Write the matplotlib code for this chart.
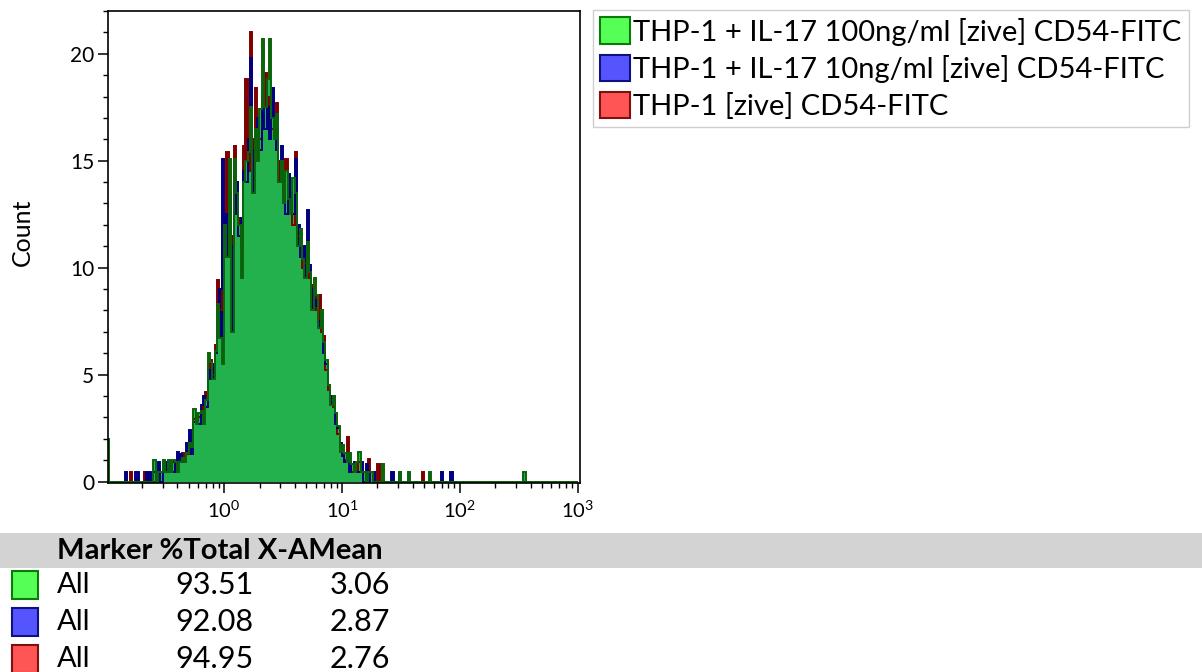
import numpy as np
import matplotlib
matplotlib.use("Agg")
import matplotlib.pyplot as plt
from matplotlib.patches import Patch, Rectangle
from matplotlib.ticker import FixedLocator, NullFormatter

plt.rcParams['font.family'] = ['Lato', 'DejaVu Sans']
plt.rcParams['mathtext.fontset'] = 'custom'
plt.rcParams['mathtext.rm'] = 'Lato'
plt.rcParams['mathtext.it'] = 'Lato'
plt.rcParams['mathtext.default'] = 'regular'

# ---- histogram channels: log10 bins of 0.02 decades starting at 10^-1 ----
LOG_START = -1.0
BIN_WIDTH = 0.02
N_BINS = 200

# counts per channel (first 116 channels), CD54-FITC
counts_il17_100 = [
    2.0, 0, 0, 0, 0, 0, 0, 0, 0, 0,
    0, 0, 0, 0, 0, 0, 0, 0, 0, 0,
    1.0, 0, 0.45, 0.45, 1.0, 0.45, 1.0, 0.45, 1.0, 0.9,
    0.45, 0.9, 1.1, 0.9, 1.35, 1.8, 1.6, 3.4, 2.7, 3.2,
    3.3, 2.7, 3.8, 6.0, 5.6, 4.8, 6.1, 8.3, 6.7, 5.5,
    12.0, 10.5, 15.1, 7.0, 15.1, 13.5, 12.0, 9.5, 14.0, 15.0,
    15.4, 17.5, 13.5, 16.5, 15.0, 17.4, 20.7, 17.5, 18.8, 20.7,
    17.0, 16.0, 17.2, 14.0, 15.0, 13.0, 14.5, 13.2, 12.5, 14.2,
    13.5, 11.0, 11.8, 10.4, 9.5, 11.2, 9.8, 8.0, 9.5, 8.7,
    7.2, 8.0, 6.5, 5.7, 4.5, 3.6, 4.0, 3.2, 2.6, 1.4,
    1.7, 1.35, 0.9, 1.35, 0.8, 0.45, 0.9, 1.4, 0.45, 0.45,
    0, 0.45, 0.45, 0, 0, 0,
]
counts_il17_10 = [
    2.0, 0, 0, 0, 0, 0, 0, 0, 0.45, 0,
    0, 0, 0.45, 0.45, 0, 0, 0, 0.45, 0.45, 0,
    0.45, 0, 0.9, 0, 0.45, 0.9, 0.45, 0.9, 0.45, 0.9,
    1.4, 1.3, 0.9, 1.0, 1.8, 2.4, 1.3, 2.8, 3.0, 2.7,
    3.6, 4.0, 3.5, 5.2, 4.8, 5.5, 6.0, 7.5, 9.0, 15.1,
    11.0, 12.5, 13.5, 11.0, 12.5, 14.0, 11.5, 12.3, 14.5, 14.0,
    16.0, 19.8, 15.5, 16.0, 17.0, 15.5, 18.0, 16.5, 17.5, 16.0,
    18.4, 16.5, 15.5, 14.0, 15.7, 13.5, 12.5, 14.4, 13.0, 12.5,
    15.1, 12.0, 10.5, 10.4, 11.0, 12.7, 10.1, 9.0, 8.5, 8.2,
    7.5, 7.8, 6.0, 5.5, 4.5, 4.0, 4.0, 2.7, 2.5, 1.8,
    1.2, 0.9, 1.3, 0.45, 0.8, 0.9, 0.45, 0.45, 0.9, 0,
    0.8, 0, 0.45, 0.45, 0, 0,
]
counts_thp1 = [
    2.0, 0, 0, 0, 0, 0, 0, 0, 0, 0,
    0.45, 0, 0, 0, 0, 0, 0.45, 0, 0, 0,
    0, 0, 0.45, 0.45, 0.9, 0.45, 0.9, 0.45, 0.9, 0.45,
    0.9, 0.9, 1.35, 0.9, 1.3, 2.0, 1.7, 2.9, 3.1, 3.0,
    3.3, 3.5, 4.2, 5.0, 5.7, 5.0, 6.4, 9.4, 8.0, 11.0,
    12.3, 15.4, 12.5, 11.5, 15.7, 13.0, 12.3, 11.0, 15.7, 18.8,
    14.5, 21.0, 16.0, 18.4, 17.0, 16.0, 17.5, 19.1, 17.0, 18.0,
    16.5, 17.0, 17.7, 15.0, 14.5, 14.0, 15.1, 13.0, 13.5, 12.0,
    15.4, 11.5, 11.0, 10.0, 10.2, 11.0, 9.5, 9.2, 8.0, 8.7,
    8.7, 7.0, 6.8, 5.2, 4.3, 3.8, 3.5, 3.0, 2.2, 1.5,
    1.3, 1.0, 2.1, 0.9, 0.45, 0.9, 0.45, 0.9, 0.45, 0.45,
    0, 1.07, 0.45, 0, 0, 0.8,
]

# sparse high-intensity events: fluorescence value -> count
tail_il17_100 = {22.4: 0.8, 30.9: 0.45, 37.2: 0.45, 56.2: 0.45, 354.8: 0.45}
tail_il17_10 = {26.9: 0.45, 30.9: 0.45, 70.8: 0.45, 85.1: 0.45}
tail_thp1 = {49.0: 0.45}

series_labels = [
    "THP-1 + IL-17 100ng/ml [zive] CD54-FITC",
    "THP-1 + IL-17 10ng/ml [zive] CD54-FITC",
    "THP-1 [zive] CD54-FITC",
]
marker_names = ["All", "All", "All"]
pct_total = ["93.51", "92.08", "94.95"]
x_mean = ["3.06", "2.87", "2.76"]

y_major = [0, 5, 10, 15, 20]
x_decades = [0.1, 1, 10, 100, 1000]

# ---- styles ----
swatch_face = ["#55ff55", "#5555ff", "#ff5555"]
swatch_edge = ["#0a7a0a", "#101080", "#801010"]
hist_fill = ["#22b14c", "#000080", "#800000"]
hist_line = ["#0b640b", "#000080", "#800000"]

edges = 10.0 ** (LOG_START + BIN_WIDTH * np.arange(N_BINS + 1))


def channel_counts(main, tail):
    arr = np.zeros(N_BINS)
    arr[:len(main)] = main
    for value, c in tail.items():
        idx = np.searchsorted(edges, value) - 1
        arr[idx] = c
    return arr


hist = [channel_counts(counts_il17_100, tail_il17_100),
        channel_counts(counts_il17_10, tail_il17_10),
        channel_counts(counts_thp1, tail_thp1)]

W, H = 1202, 672
fig = plt.figure(figsize=(W / 100, H / 100), dpi=100)
ax = fig.add_axes([108 / W, 189 / H, 472 / W, 472 / H])

# untreated first, highest dose on top
for k in (2, 1, 0):
    ax.stairs(hist[k], edges, fill=True, color=hist_fill[k], lw=0, zorder=1)
    ax.stairs(hist[k], edges, baseline=0, fill=False, color=hist_line[k],
              lw=1.4, zorder=1.5)

ax.set_xscale("log")
ax.set_xlim(0.1034, 1048)
ax.set_ylim(-0.07, 22)

ax.xaxis.set_major_locator(FixedLocator(x_decades[1:]))
minor = [m * d for d in x_decades[:-1] for m in range(2, 10)]
ax.xaxis.set_minor_locator(FixedLocator(minor))
ax.xaxis.set_minor_formatter(NullFormatter())
ax.set_xticklabels([r"$10^{%d}$" % int(round(np.log10(v))) for v in x_decades[1:]])

ax.set_yticks(y_major)
ax.set_yticks(range(0, 23), minor=True)

ax.tick_params(which="major", length=7, width=1.1, direction="out",
               colors="black")
ax.tick_params(axis="y", which="major", labelsize=15, pad=3)
ax.tick_params(which="minor", length=3.5, width=1.0, direction="out")
ax.tick_params(axis="x", which="major", pad=5, labelsize=14.5)
for s in ax.spines.values():
    s.set_linewidth(1.2)
    s.set_color("black")

fig.text(22 / W, 1 - 232 / H, "Count", rotation=90, ha="center", va="center",
         fontsize=18)

# ---- legend ----
handles = [Patch(facecolor=swatch_face[k], edgecolor=swatch_edge[k], linewidth=1.5)
           for k in range(3)]
leg = fig.legend(handles, series_labels, loc="upper left",
                 bbox_to_anchor=(593 / W, 1 - 10 / H),
                 fontsize=21.0, frameon=True, fancybox=False,
                 handlelength=1.02, handleheight=1.02, handletextpad=0.1,
                 labelspacing=0.31, borderpad=0.25, borderaxespad=0)
leg.get_frame().set_edgecolor("#c4c4c4")
leg.get_frame().set_linewidth(1.0)

# ---- statistics table ----
fig.add_artist(Rectangle((0, 1 - 568 / H), 1, 35 / H, transform=fig.transFigure,
                         facecolor="#d3d3d3", edgecolor="none"))
fig.text(57 / W, 1 - 551 / H, "Marker %Total X-AMean", fontsize=21,
         fontweight="bold", va="center", ha="left")
row_y = [585, 622, 659]
for k in range(3):
    yc = 1 - row_y[k] / H
    fig.add_artist(Rectangle((12 / W, yc - 14 / H), 26 / W, 28 / H,
                             transform=fig.transFigure,
                             facecolor=swatch_face[k], edgecolor=swatch_edge[k],
                             linewidth=1.5))
    fig.text(57 / W, yc, marker_names[k], fontsize=21, va="center", ha="left")
    fig.text(175 / W, yc, pct_total[k], fontsize=22, va="center", ha="left")
    fig.text(330 / W, yc, x_mean[k], fontsize=22, va="center", ha="left")

fig.savefig("out.png", dpi=100)
